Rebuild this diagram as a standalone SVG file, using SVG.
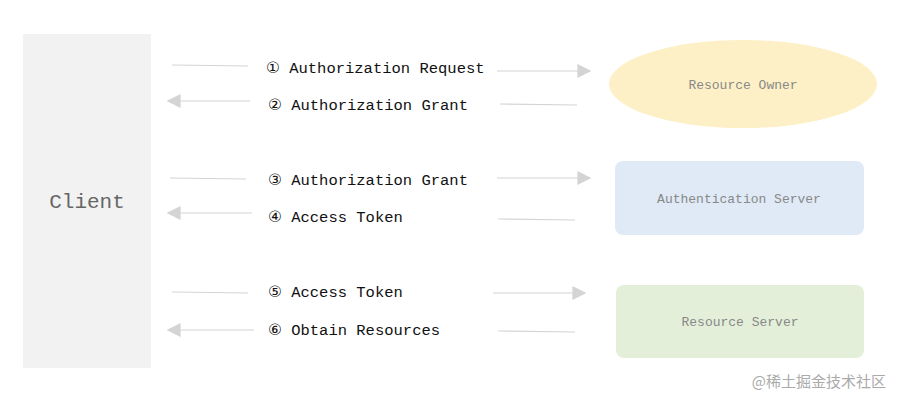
<svg xmlns="http://www.w3.org/2000/svg" width="900" height="405" viewBox="0 0 900 405">
<style>
.t{font-family:"Liberation Mono","DejaVu Sans Mono",monospace;font-size:15.5px;fill:#111}
.c{font-family:"DejaVu Sans",sans-serif;font-weight:normal}
.n{font-family:"Liberation Mono","DejaVu Sans Mono",monospace;font-size:13px;fill:#888;text-anchor:middle}
.l{stroke:#d4d4d4;stroke-width:1.2;fill:none}
</style>
<defs><marker id="a" viewBox="0 0 10 10" refX="9" refY="5" markerWidth="14" markerHeight="14" markerUnits="userSpaceOnUse" orient="auto"><path d="M0,0L10,5L0,10z" fill="#d4d4d4"/></marker></defs>
<rect width="900" height="405" fill="#fff"/>
<g id="client"><rect x="23" y="34" width="128" height="334" fill="#f2f2f2"/><text x="87" y="208" style="font-family:'Liberation Mono','DejaVu Sans Mono',monospace;font-size:21px;fill:#666;text-anchor:middle">Client</text></g>
<g id="owner"><ellipse cx="743" cy="84" rx="134" ry="44" fill="#fdf0c6"/><text class="n" x="743" y="89">Resource Owner</text></g>
<g id="auth"><rect x="615" y="161" width="249" height="74" rx="8" fill="#dfeaf6"/><text class="n" x="739" y="203">Authentication Server</text></g>
<g id="res"><rect x="616" y="285" width="248" height="73" rx="8" fill="#e3efd9"/><text class="n" x="740" y="326">Resource Server</text></g>
<g id="connectors">
<line class="l" x1="172" y1="65" x2="248" y2="66"/><line class="l" x1="497" y1="71" x2="590" y2="71" marker-end="url(#a)"/>
<line class="l" x1="250" y1="101" x2="168" y2="101" marker-end="url(#a)"/><line class="l" x1="500" y1="104" x2="577" y2="105"/>
<line class="l" x1="170" y1="178" x2="246" y2="179"/><line class="l" x1="497" y1="178" x2="590" y2="178" marker-end="url(#a)"/>
<line class="l" x1="252" y1="213" x2="168" y2="213" marker-end="url(#a)"/><line class="l" x1="498" y1="219" x2="575" y2="220"/>
<line class="l" x1="172" y1="292" x2="248" y2="293"/><line class="l" x1="493" y1="293" x2="585" y2="293" marker-end="url(#a)"/>
<line class="l" x1="254" y1="330" x2="168" y2="330" marker-end="url(#a)"/><line class="l" x1="498" y1="331" x2="575" y2="332"/>
</g>
<g id="labels">
<text class="t" x="266" y="73"><tspan class="c">①</tspan> Authorization Request</text>
<text class="t" x="268" y="110"><tspan class="c">②</tspan> Authorization Grant</text>
<text class="t" x="268" y="185"><tspan class="c">③</tspan> Authorization Grant</text>
<text class="t" x="268" y="222"><tspan class="c">④</tspan> Access Token</text>
<text class="t" x="268" y="297"><tspan class="c">⑤</tspan> Access Token</text>
<text class="t" x="268" y="335"><tspan class="c">⑥</tspan> Obtain Resources</text>
</g>
<text x="886" y="387" style="font-family:'Noto Sans CJK SC',sans-serif;font-size:15px;fill:#aaa;text-anchor:end">@稀土掘金技术社区</text>
</svg>
